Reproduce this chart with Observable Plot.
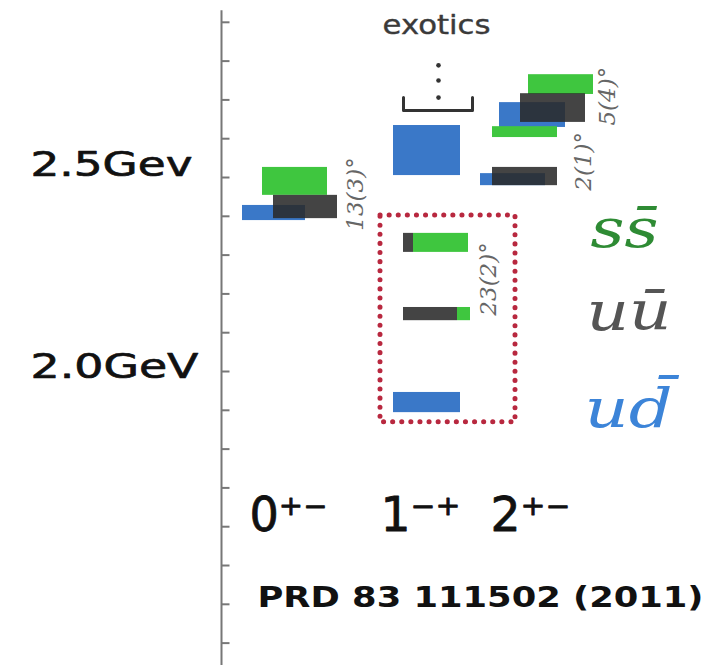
<!DOCTYPE html>
<html><head><meta charset="utf-8">
<script src="https://cdn.jsdelivr.net/npm/d3@7"></script>
<script src="https://cdn.jsdelivr.net/npm/@observablehq/plot@0.6"></script>
<style>body{margin:0;background:#fff}#chart svg{display:block}</style>
</head><body><div id="chart"></div>
<script>
// ---- data (mass in GeV, horizontal position in arbitrary units) ----
const levelKind  = ["ud","ss","uu",   "ud",  "uu","ss","uu","ss","ud",   "ud","ss","uu","ud","ss","uu"];
const levelLeft  = [2.42,2.62,2.73,   3.93,  4.03,4.13,4.03,4.57,3.93,   4.99,5.28,5.20,4.80,4.92,4.92];
const levelRight = [3.05,3.27,3.37,   4.60,  4.13,4.68,4.57,4.70,4.60,   5.65,5.93,5.85,5.45,5.57,5.57];
const levelLo    = [2.389,2.454,2.394,2.505, 2.307,2.307,2.131,2.131,1.894, 2.629,2.714,2.642,2.479,2.603,2.479];
const levelHi    = [2.428,2.526,2.454,2.634, 2.356,2.356,2.165,2.165,1.946, 2.693,2.765,2.716,2.510,2.631,2.526];

const tickMasses = [1.3,1.4,1.5,1.6,1.7,1.8,1.9,2.0,2.1,2.2,2.3,2.4,2.5,2.6,2.7,2.8,2.9];
const axisLabels = ["2.5Gev","2.0GeV"];
const axisLabelMass = [2.505,1.982];

const mixLabels = ["13(3)°","23(2)°","5(4)°","2(1)°"];
const mixX      = [3.55,4.88,6.07,5.83];
const mixMass   = [2.363,2.144,2.634,2.466];

const channelLabels = ["0⁺⁻","1⁻⁺","2⁺⁻"];
const channelX = [2.49,3.80,4.90];

const flavorLabels = ["ss̄","uū","ud̄"];
const flavorKinds  = ["ss","uu","ud"];
const flavorX      = [5.90,5.86,5.84];
const flavorMass   = [2.320,2.106,1.856];

const exoticBox = {x1:3.80, x2:5.15, y1:1.869, y2:2.402};
const bracketX = [4.03,4.03,4.72,4.72];
const bracketMass = [2.706,2.673,2.673,2.706];
const ellipsisMass = [2.789,2.750,2.706];
const ellipsisX = 4.38;

// ---- styles ----
const color = {ss:"#3fc63f", uu:"#2a2a2a", ud:"#3a78c8"};
const textColor = {ss:"#2e8b34", uu:"#555555", ud:"#3c84d8"};
const axisX = 2.21, tickLen = 0.085, axisTop = 2.93, axisBottom = 1.2423;
const stretch = {"2.5Gev":162,"2.0GeV":168,"exotics":108,"0⁺⁻":78,"1⁻⁺":80,"2⁺⁻":80,"PRD 83 111502 (2011)":446,
                 "ss̄":68,"uū":85,"ud̄":88};

const levels = levelKind.map((k,i)=>({kind:k,left:levelLeft[i],right:levelRight[i],lo:levelLo[i],hi:levelHi[i]}));
const bracket = bracketX.map((x,i)=>({x, y:bracketMass[i]}));
const ellipsis = ellipsisMass.map(y=>({x:ellipsisX,y}));

const chart = Plot.plot({
  width:728, height:665, margin:0,
  x:{domain:[0,7.28], axis:null},
  y:{domain:[1.2423,2.9562], axis:null},
  style:{background:"#fff", fontFamily:"DejaVu Sans"},
  marks:[
    Plot.ruleX([axisX], {y1:()=>axisTop, y2:()=>axisBottom, stroke:"#777", strokeWidth:2}),
    Plot.ruleY(tickMasses, {y:d=>d, x1:()=>axisX, x2:()=>axisX+tickLen, stroke:"#777", strokeWidth:2}),
    Plot.rect(levels, {x1:"left", x2:"right", y1:"lo", y2:"hi", fill:d=>color[d.kind], fillOpacity:d=>d.kind==="uu"?0.88:1}),
    Plot.rect([exoticBox], {x1:"x1", x2:"x2", y1:"y1", y2:"y2", fill:"none", stroke:"#b8283f", strokeWidth:5, strokeDasharray:"0.1,9", strokeLinecap:"round"}),
    Plot.line(bracket, {x:"x", y:"y", stroke:"#333", strokeWidth:3}),
    Plot.dot(ellipsis, {x:"x", y:"y", r:2.3, fill:"#333", stroke:null}),
    Plot.text(axisLabels, {x:()=>0.30, y:(d,i)=>axisLabelMass[i], text:d=>d, textAnchor:"start", lineAnchor:"bottom", fontSize:34, fill:"#111", stroke:"#111", strokeWidth:0.7}),
    Plot.text(["exotics"], {x:()=>3.82, y:()=>2.869, text:d=>d, textAnchor:"start", lineAnchor:"bottom", fontSize:27, fill:"#3a3a3a", stroke:"#3a3a3a", strokeWidth:0.4}),
    Plot.text(mixLabels, {x:(d,i)=>mixX[i], y:(d,i)=>mixMass[i], text:d=>d, rotate:-90, textAnchor:"start", lineAnchor:"middle", fontSize:23, fontStyle:"italic", fontFamily:"DejaVu Serif", fill:"#666"}),
    Plot.text(channelLabels, {x:(d,i)=>channelX[i], y:()=>1.590, text:d=>d, textAnchor:"start", lineAnchor:"bottom", fontSize:48, fill:"#111", stroke:"#111", strokeWidth:0.8}),
    Plot.text(["PRD 83 111502 (2011)"], {x:()=>2.57, y:()=>1.392, text:d=>d, textAnchor:"start", lineAnchor:"bottom", fontSize:29, fontWeight:"bold", fill:"#111"}),
    Plot.text(flavorLabels, {x:(d,i)=>flavorX[i], y:(d,i)=>flavorMass[i], text:d=>d, textAnchor:"start", lineAnchor:"bottom", fontSize:54, fontStyle:"italic", fontFamily:"DejaVu Serif", fill:(d,i)=>textColor[flavorKinds[i]]})
  ]
});
document.getElementById("chart").appendChild(chart);
d3.select(chart).selectAll("text").each(function(){
  const w = stretch[this.textContent];
  if (w) { this.setAttribute("textLength", w); this.setAttribute("lengthAdjust","spacingAndGlyphs"); }
});
</script></body></html>
